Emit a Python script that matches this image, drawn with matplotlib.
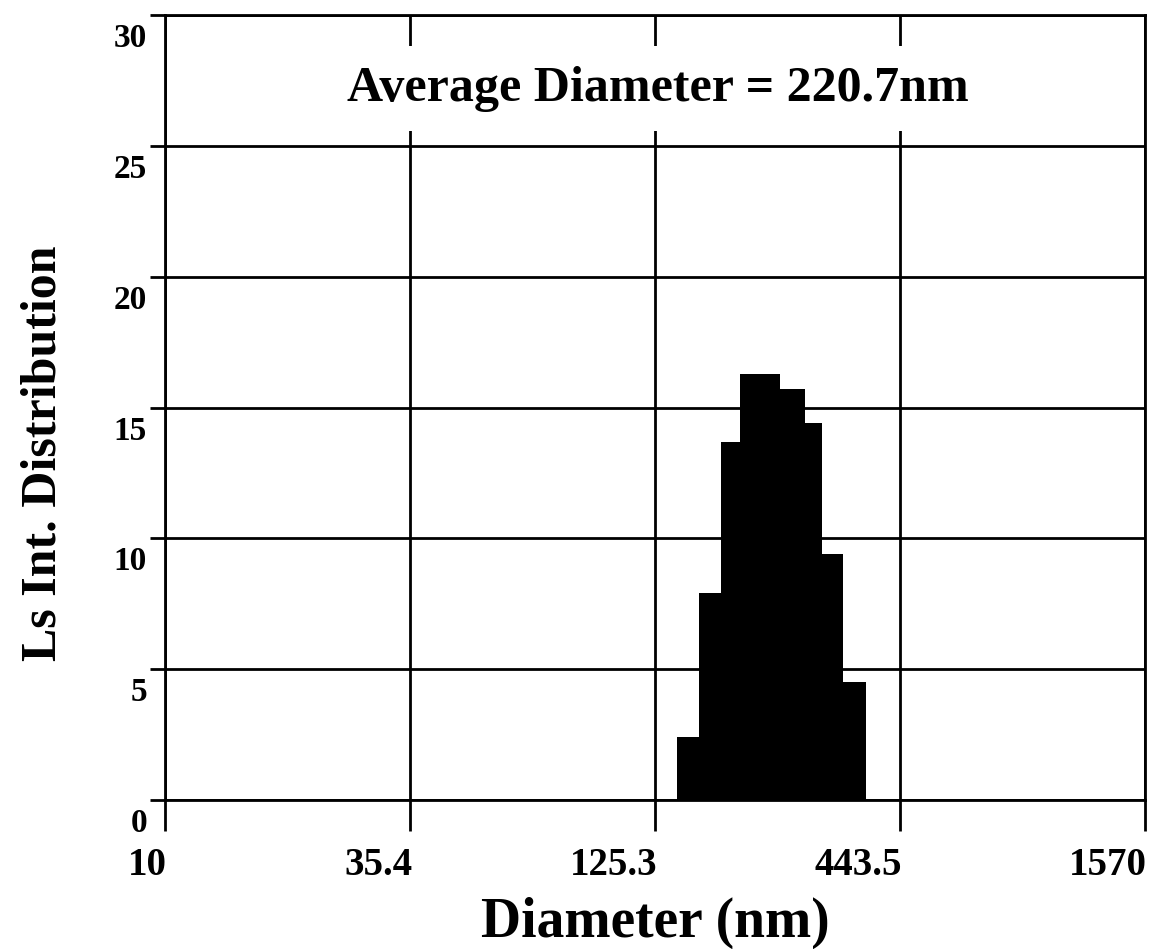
import matplotlib
matplotlib.use("Agg")
from matplotlib import pyplot as plt
from matplotlib import transforms
from matplotlib.ticker import FixedLocator, NullLocator

# bin edges (nm) and intensity of each bin
bin_edges = [140.6, 157.4, 176.5, 194.6, 239.2, 272.0, 297.0, 329.6, 371.3]
intensity = [2.4, 7.9, 13.7, 16.3, 15.7, 14.4, 9.4, 4.5]

x_ticks = [10, 35.4, 125.3, 443.5, 1570]
x_labels = ["10", "35.4", "125.3", "443.5", "1570"]
y_ticks = [0, 5, 10, 15, 20, 25, 30]

plt.rcParams['font.family'] = ['Liberation Serif', 'DejaVu Serif']
plt.rcParams['font.weight'] = 'bold'

fig = plt.figure(figsize=(11.59, 9.49), dpi=100)
ax = fig.add_axes([0.1424, 0.157, 0.8456, 0.827])

ax.stairs(intensity, bin_edges, fill=True, color='black')

ax.set_xscale('log')
ax.set_xlim(10, 1570)
ax.set_ylim(0, 30)
ax.xaxis.set_major_locator(FixedLocator(x_ticks))
ax.xaxis.set_minor_locator(NullLocator())
ax.set_xticks(x_ticks)
ax.set_xticklabels(x_labels)
ax.set_yticks(y_ticks)

ax.grid(True, color='black', linewidth=2)
ax.set_axisbelow(True)
for s in ax.spines.values():
    s.set_linewidth(2)

ax.tick_params(axis='x', direction='out', length=22, width=2,
               labelsize=28, pad=12)
ax.tick_params(axis='y', direction='out', length=11, width=2,
               labelsize=24, pad=2)

# labels sit to the left of / below their ticks
for lab in ax.get_xticklabels():
    lab.set_ha('right')
    lab.set_va('top')
    lab.set_transform(lab.get_transform() +
                      transforms.ScaledTranslation(0.02, 0, fig.dpi_scale_trans))
for lab in ax.get_yticklabels():
    lab.set_va('top')
    lab.set_transform(lab.get_transform() +
                      transforms.ScaledTranslation(0, -0.08, fig.dpi_scale_trans))

# the title box hides the grid behind it
ax.text(0.503, 0.891, "Average Diameter = 220.7nm", transform=ax.transAxes,
        ha='center', va='baseline', fontsize=36, fontweight='bold', zorder=5,
        bbox=dict(facecolor='white', edgecolor='none', pad=14))

ax.set_xlabel("Diameter (nm)", fontsize=40, fontweight='bold', va='center')
ax.xaxis.set_label_coords(0.5, -0.157)
ax.set_ylabel("Ls Int. Distribution", fontsize=36, fontweight='bold',
              va='center', ha='center')
ax.yaxis.set_label_coords(-0.1245, 0.442)

plt.savefig('out.png', dpi=100)
